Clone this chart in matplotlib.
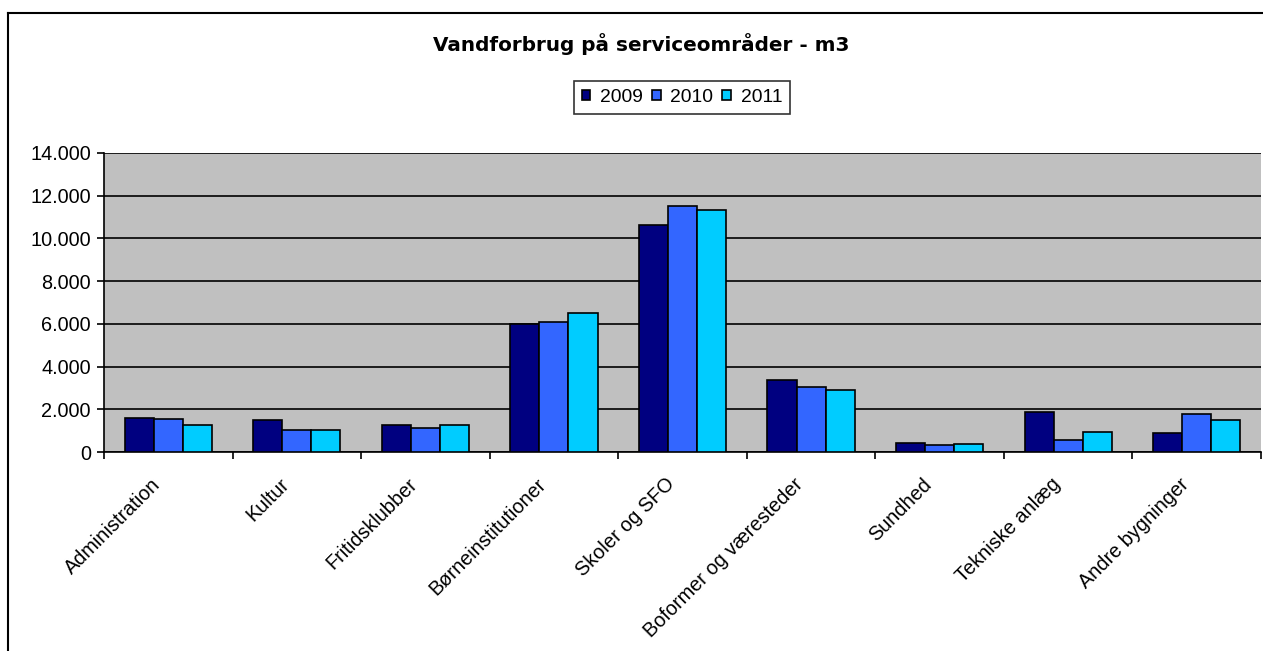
import matplotlib
matplotlib.use("Agg")
import matplotlib.pyplot as plt
import numpy as np
from matplotlib.lines import Line2D
from matplotlib.ticker import FuncFormatter
from matplotlib.transforms import ScaledTranslation

categories = ["Administration", "Kultur", "Fritidsklubber", "Børneinstitutioner",
              "Skoler og SFO", "Boformer og væresteder", "Sundhed", "Tekniske anlæg",
              "Andre bygninger"]
years = ["2009", "2010", "2011"]
v2009 = [1570, 1490, 1260, 6000, 10650, 3350, 440, 1860, 890]
v2010 = [1550, 1040, 1120, 6080, 11500, 3060, 350, 570, 1780]
v2011 = [1260, 1040, 1260, 6510, 11350, 2920, 365, 950, 1480]
colors = ["#000080", "#3366FF", "#00CCFF"]
title = "Vandforbrug på serviceområder - m3"
yticks = [0, 2000, 4000, 6000, 8000, 10000, 12000, 14000]

plt.rcParams['font.family'] = ['Liberation Sans', 'DejaVu Sans']

W, H = 1263, 651
fig = plt.figure(figsize=(W/100, H/100), dpi=100)
ax = fig.add_axes([104/W, 1 - 452/H, (1261-104)/W, (452-153)/H])
ax.set_facecolor("#C0C0C0")

x = np.arange(len(categories))
bw = 0.226
for i, (vals, c, lab) in enumerate(zip([v2009, v2010, v2011], colors, years)):
    ax.bar(x + (i - 1) * bw, vals, width=bw, color=c, edgecolor="black",
           linewidth=1.2, label=lab, zorder=3)

ax.set_xlim(-0.5, len(categories) - 0.5)
ax.set_ylim(0, 14000)
ax.set_yticks(yticks)
ax.yaxis.set_major_formatter(FuncFormatter(lambda v, p: f"{int(v):,}".replace(",", ".")))
ax.grid(axis="y", color="black", linewidth=1.2, zorder=1)
ax.set_axisbelow(True)

ax.set_xticks(np.arange(len(categories) + 1) - 0.5, minor=False)
ax.set_xticklabels([])
ax.set_xticks(x, minor=True)
ax.set_xticklabels(categories, minor=True, rotation=45, ha="right", va="center",
                   rotation_mode="anchor", fontsize=14.3)
ax.tick_params(axis="x", which="minor", length=0, pad=21)
ax.tick_params(axis="x", which="major", length=5, width=1.2, direction="out")
ax.tick_params(axis="y", length=5, width=1.2, direction="out", labelsize=14.3, pad=4.5)
shift = ScaledTranslation(-11/100, 0, fig.dpi_scale_trans)
for lbl in ax.get_xticklabels(minor=True):
    lbl.set_transform(lbl.get_transform() + shift)

for s in ["top", "right"]:
    ax.spines[s].set_visible(False)
ax.spines["left"].set_linewidth(1.2)
ax.spines["bottom"].set_linewidth(1.2)

fig.text(641/W, 1 - 44/H, title, ha="center", va="center", fontsize=14.45,
         fontweight="bold", family=["DejaVu Sans"])

leg = fig.legend(loc="center", bbox_to_anchor=(682/W, 1 - 97.5/H), ncol=3,
                 frameon=True, fancybox=False, fontsize=13.9, handlelength=0.45,
                 handleheight=0.45, handletextpad=0.5, columnspacing=0.47,
                 borderpad=0.4, borderaxespad=0)
leg.get_frame().set_edgecolor("black")
leg.get_frame().set_linewidth(1.2)

fig.add_artist(Line2D([8/W, 8/W], [0, 1 - 13/H], color="black", linewidth=1.5,
                      transform=fig.transFigure))
fig.add_artist(Line2D([8/W, 1], [1 - 13/H, 1 - 13/H], color="black", linewidth=1.5,
                      transform=fig.transFigure))

fig.savefig("out.png", dpi=100)
